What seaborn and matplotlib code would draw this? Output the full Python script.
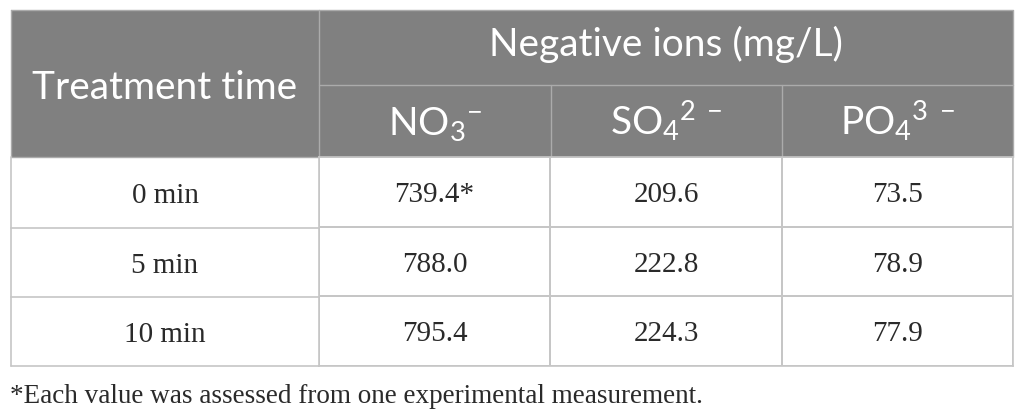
import numpy as np
import pandas as pd
import seaborn as sns
import matplotlib
matplotlib.use("Agg")
import matplotlib.pyplot as plt
from matplotlib.colors import ListedColormap
from matplotlib.patches import Rectangle

# ---- data ----
times = ["0 min", "5 min", "10 min"]
ions = ["NO3", "SO4", "PO4"]
no3 = [739.4, 788.0, 795.4]
so4 = [209.6, 222.8, 224.3]
po4 = [73.5, 78.9, 77.9]
marks = ["*", "", ""]  # footnote mark on first NO3 value
header_first = "Treatment time"
header_group = "Negative ions (mg/L)"
ion_labels = [r"$\mathrm{NO_3}^{-}$", r"$\mathrm{SO_4}^{2\ -}$", r"$\mathrm{PO_4}^{3\ -}$"]
footnote = "*Each value was assessed from one experimental measurement."

sns.set_theme(style="white")
plt.rcParams["mathtext.fontset"] = "custom"
plt.rcParams["mathtext.rm"] = "Lato"
plt.rcParams["mathtext.it"] = "Lato:italic"
plt.rcParams["mathtext.bf"] = "Lato:bold"

W, H = 1026, 419
fig = plt.figure(figsize=(W / 100, H / 100), dpi=100)
fig.patch.set_facecolor("white")
ax = fig.add_axes([0, 0, 1, 1])
ax.set_xlim(0, W)
ax.set_ylim(H, 0)
ax.axis("off")

L, R = 11, 1013
T, HM, HB = 10, 85, 157
cols = [L, 319, 551, 782, R]
rows = [HB, 228, 297, 366]
hdr_col = "#808080"
hdr_line = "#ababab"
body_line = "#c6c6c6"
txt_col = "#2a2a2a"
sans = ["Lato", "DejaVu Sans"]
serif = ["Liberation Serif", "DejaVu Serif"]

# header
ax.add_patch(Rectangle((L, T), R - L, HB - T, facecolor=hdr_col, edgecolor="none", zorder=1))
ax.plot([cols[1], R], [HM, HM], color=hdr_line, lw=1, zorder=2)
ax.plot([cols[1], cols[1]], [T, HB], color=hdr_line, lw=1, zorder=2)
for c in cols[2:4]:
    ax.plot([c, c], [HM, HB], color=hdr_line, lw=1, zorder=2)
ax.plot([L, R, R, L, L], [T, T, HB, HB, T], color=hdr_line, lw=1, zorder=2)

ax.text((L + cols[1]) / 2, 99, header_first, ha="center", va="baseline",
        color="white", fontsize=28, family=sans, zorder=3)
ax.text((cols[1] + R) / 2, 56, header_group, ha="center", va="baseline",
        color="white", fontsize=28, family=sans, zorder=3)
for i, lab in enumerate(ion_labels):
    ax.text((cols[i + 1] + cols[i + 2]) / 2, 135, lab, ha="center", va="baseline",
            color="white", fontsize=28, zorder=3)

# first column of body
BASE_OFF = 10
for r0, r1, t in zip(rows[:-1], rows[1:], times):
    ax.text((L + cols[1]) / 2, (r0 + r1) / 2 + BASE_OFF, t, ha="center", va="baseline",
            color=txt_col, fontsize=21, family=serif, zorder=3)
for y in rows[1:]:
    ax.plot([L, cols[1]], [y, y], color=body_line, lw=1.2, zorder=2)
ax.plot([L, L], [HB, rows[-1]], color=body_line, lw=1.2, zorder=2)

ax.text(L - 1, 403, footnote, ha="left", va="baseline", color=txt_col,
        fontsize=19.5, family=serif)

# numeric cells via seaborn heatmap
vals = pd.DataFrame({"NO3": no3, "SO4": so4, "PO4": po4}, index=times)
annot = vals.copy().astype(object)
for i in range(len(times)):
    for j, c in enumerate(ions):
        annot.iloc[i, j] = f"{vals.iloc[i, j]:.1f}" + (marks[i] if j == 0 else "")
hax = fig.add_axes([cols[1] / W, 1 - rows[-1] / H, (R - cols[1]) / W, (rows[-1] - HB) / H])
sns.heatmap(vals, ax=hax, cmap=ListedColormap(["white"]), cbar=False,
            annot=annot.values, fmt="", linewidths=1.2, linecolor=body_line,
            annot_kws={"fontsize": 21, "family": serif, "color": txt_col, "va": "baseline"})
row_px = (rows[-1] - HB) / len(times)
for t in hax.texts:
    x, y = t.get_position()
    t.set_position((x, y + BASE_OFF / row_px))
hax.set_xticks([]); hax.set_yticks([])
hax.set_xlabel(""); hax.set_ylabel("")
for s in hax.spines.values():
    s.set_visible(True)
    s.set_color(body_line)
    s.set_linewidth(1.2)

fig.savefig("out.png", dpi=100, facecolor="white")
